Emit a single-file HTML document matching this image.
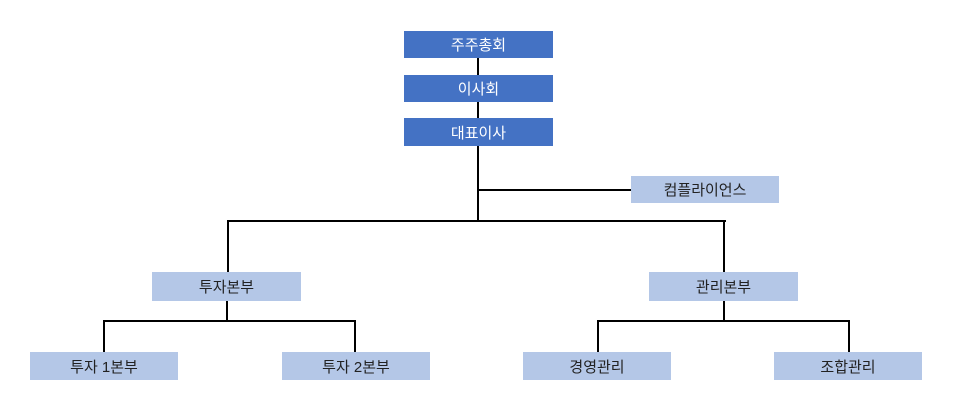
<!DOCTYPE html>
<html><head><meta charset="utf-8"><style>
body{margin:0;width:970px;height:406px;background:#fff;position:relative;overflow:hidden;font-family:"Liberation Sans","Noto Sans CJK KR","NanumGothic",sans-serif;}
.b{position:absolute;display:flex;align-items:center;justify-content:center;font-size:15px;color:#222;background:#B4C7E7;}
.d{background:#4472C4;color:#fff;}
.l{position:absolute;background:#000;}
</style></head><body>
<div class="l" style="left:477px;top:57px;width:2px;height:165px"></div>
<div class="l" style="left:477px;top:189px;width:155px;height:2px"></div>
<div class="l" style="left:227px;top:220px;width:499px;height:2px"></div>
<div class="l" style="left:227px;top:220px;width:2px;height:52px"></div>
<div class="l" style="left:723px;top:220px;width:2px;height:52px"></div>
<div class="l" style="left:226px;top:300px;width:2px;height:21px"></div>
<div class="l" style="left:103px;top:320px;width:253px;height:2px"></div>
<div class="l" style="left:103px;top:320px;width:2px;height:32px"></div>
<div class="l" style="left:354px;top:320px;width:2px;height:32px"></div>
<div class="l" style="left:723px;top:300px;width:2px;height:21px"></div>
<div class="l" style="left:597px;top:320px;width:253px;height:2px"></div>
<div class="l" style="left:597px;top:320px;width:2px;height:32px"></div>
<div class="l" style="left:848px;top:320px;width:2px;height:32px"></div>

<div class="b d" style="left:404px;top:31px;width:149px;height:27px">주주총회</div>
<div class="b d" style="left:404px;top:75px;width:149px;height:27px">이사회</div>
<div class="b d" style="left:404px;top:118px;width:149px;height:28px">대표이사</div>
<div class="b" style="left:631px;top:176px;width:148px;height:27px">컴플라이언스</div>
<div class="b" style="left:152px;top:272px;width:149px;height:29px">투자본부</div>
<div class="b" style="left:649px;top:272px;width:149px;height:29px">관리본부</div>
<div class="b" style="left:30px;top:352px;width:148px;height:28px">투자 1본부</div>
<div class="b" style="left:282px;top:352px;width:148px;height:28px">투자 2본부</div>
<div class="b" style="left:523px;top:352px;width:148px;height:28px">경영관리</div>
<div class="b" style="left:774px;top:352px;width:148px;height:28px">조합관리</div>
</body></html>
